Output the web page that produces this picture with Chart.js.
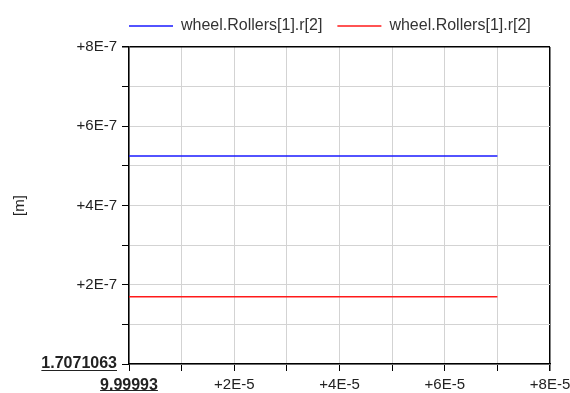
<!DOCTYPE html>
<html>
<head>
<meta charset="utf-8">
<script src="https://cdn.jsdelivr.net/npm/chart.js@4/dist/chart.umd.min.js"></script>
<style>
  html, body { margin: 0; padding: 0; background: #fff; }
  #wrap { width: 570px; height: 393px; }
</style>
</head>
<body>
<div id="wrap"><canvas id="plot"></canvas></div>
<script>
// offsets from base values 9.99993 (x) and 1.7071063 (y)
const seriesNames = ["wheel.Rollers[1].r[2]", "wheel.Rollers[1].r[2]"];
const timeVals = [0, 7e-5];
const blueVals = [5.25e-7, 5.25e-7];
const redVals = [1.7e-7, 1.7e-7];
const xTickLabels = ["9.99993", "", "+2E-5", "", "+4E-5", "", "+6E-5", "", "+8E-5"];
const yTickLabels = ["1.7071063", "", "+2E-7", "", "+4E-7", "", "+6E-7", "", "+8E-7"];

const FAMILY = "'Liberation Sans', Arial, sans-serif";
const tickFont = { family: FAMILY, size: 15 };
const baseFont = { family: FAMILY, size: 16, weight: "bold" };
const pickFont = (c) => (c.index === 0 ? baseFont : tickFont);

// underline the base value labels, push legend over the plot
const extras = {
  id: "extras",
  afterLayout(chart) {
    const lg = chart.legend;
    lg.left += 114;
    lg.right += 114;
    lg.top -= 3;
    lg.bottom -= 3;
  },
  afterDraw(chart) {
    const ctx = chart.ctx;
    const xs = chart.scales.x, ys = chart.scales.y;
    ctx.save();
    ctx.font = "bold 16px " + FAMILY;
    ctx.strokeStyle = "#222";
    ctx.lineWidth = 1;
    let w = ctx.measureText(xTickLabels[0]).width;
    let px = xs.getPixelForValue(0);
    let py = 390;
    ctx.beginPath();
    ctx.moveTo(px - w / 2, py + 0.5);
    ctx.lineTo(px + w / 2, py + 0.5);
    ctx.stroke();
    w = ctx.measureText(yTickLabels[0]).width;
    px = ys.right - 7 - 5;
    py = ys.getPixelForValue(0) + 6;
    ctx.beginPath();
    ctx.moveTo(px - w, py + 0.5);
    ctx.lineTo(px, py + 0.5);
    ctx.stroke();
    ctx.restore();
  }
};

const gridColor = (c) => (c.index === 8 ? "#000" : "#d3d3d3");
const gridWidth = (c) => (c.index === 8 ? 1.5 : 1);

new Chart(document.getElementById("plot"), {
  type: "line",
  data: {
    datasets: [
      {
        label: seriesNames[0],
        data: timeVals.map((t, i) => ({ x: t, y: blueVals[i] })),
        borderColor: "#1a1aff",
        backgroundColor: "#1a1aff",
        borderWidth: 1.5,
        pointRadius: 0
      },
      {
        label: seriesNames[1],
        data: timeVals.map((t, i) => ({ x: t, y: redVals[i] })),
        borderColor: "#ff1a1a",
        backgroundColor: "#ff1a1a",
        borderWidth: 1.5,
        pointRadius: 0
      }
    ]
  },
  options: {
    responsive: true,
    maintainAspectRatio: false,
    animation: false,
    layout: { padding: { left: 0, right: 0, top: 6, bottom: 0 } },
    plugins: {
      legend: {
        position: "top",
        align: "start",
        labels: {
          usePointStyle: true,
          pointStyle: "line",
          pointStyleWidth: 44,
          boxHeight: 8,
          padding: 15,
          color: "#333",
          font: { family: FAMILY, size: 16 }
        }
      },
      tooltip: { enabled: false }
    },
    scales: {
      x: {
        type: "linear",
        min: 0,
        max: 8e-5,
        afterFit: (s) => { s.height = 29; s.paddingRight = 20; },
        ticks: {
          stepSize: 1e-5,
          maxRotation: 0,
          autoSkip: false,
          padding: 5,
          color: "#222",
          font: pickFont,
          callback: (v, i) => xTickLabels[i]
        },
        grid: { color: gridColor, lineWidth: gridWidth, tickColor: "#000", tickLength: 7 },
        border: { color: "#000", width: 1.5 }
      },
      y: {
        type: "linear",
        min: 0,
        max: 8e-7,
        afterFit: (s) => { s.width = 129; },
        title: {
          display: true,
          text: "[m]",
          color: "#222",
          font: tickFont,
          padding: { top: 11, bottom: 0 }
        },
        ticks: {
          stepSize: 1e-7,
          autoSkip: false,
          padding: 5,
          color: "#222",
          font: pickFont,
          callback: (v, i) => yTickLabels[i]
        },
        grid: { color: gridColor, lineWidth: gridWidth, tickColor: "#000", tickLength: 7 },
        border: { color: "#000", width: 1.5 }
      }
    }
  },
  plugins: [extras]
});
</script>
</body>
</html>
